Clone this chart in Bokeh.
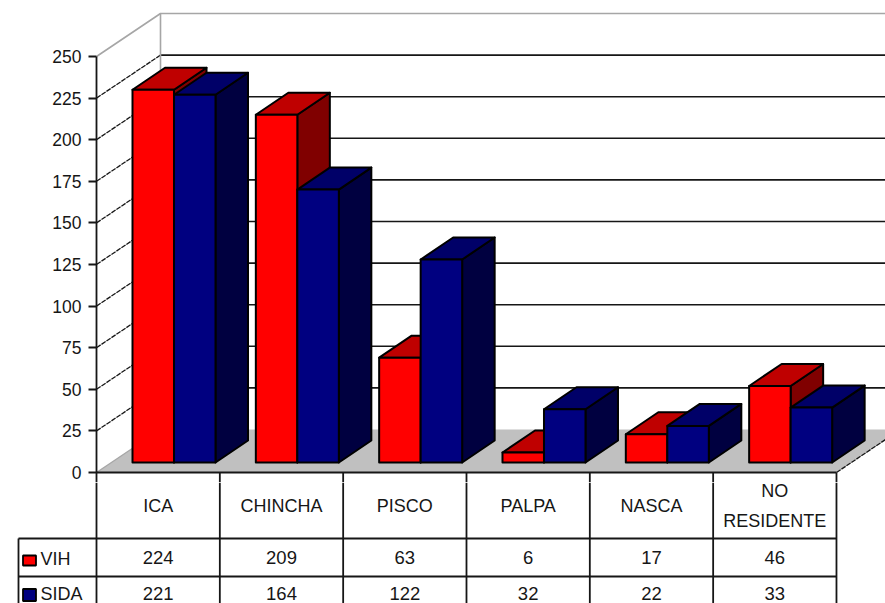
from bokeh.plotting import figure
from bokeh.models import Range1d, FixedTicker
from bokeh.core.properties import value
from bokeh.embed import file_html
from bokeh.resources import INLINE

categories = ["ICA", "CHINCHA", "PISCO", "PALPA", "NASCA", "NO\nRESIDENTE"]
vih = [224, 209, 63, 6, 17, 46]
sida = [221, 164, 122, 32, 22, 33]
y_ticks = [0, 25, 50, 75, 100, 125, 150, 175, 200, 225, 250]

FONT = value("Liberation Sans")
INK = "#161616"
PX_X = 123.33      # pixels per category
PX_Y = 1.664       # pixels per value unit
AXIS_PX = 96
OFF_L, OFF_T = 0, 0
WIDTH, TOP_H, BOT_H = 885, 482, 121


def ux(px):
    return px / PX_X


def uy(px):
    return px / PX_Y


x_end = ux(OFF_L + WIDTH - AXIS_PX)
top = figure(width=WIDTH, height=TOP_H, output_backend="svg", toolbar_location=None,
             x_range=Range1d(0, x_end),
             y_range=Range1d(uy(-(OFF_T + TOP_H - 472)), uy(472 - OFF_T)),
             x_axis_location=None, min_border_left=AXIS_PX - OFF_L, min_border_right=0,
             min_border_top=0, min_border_bottom=0, outline_line_color=None)
top.grid.visible = False
ax = top.yaxis[0]
ax.ticker = FixedTicker(ticks=y_ticks)
ax.bounds = (uy(-(OFF_T + TOP_H - 472)), y_ticks[-1])
ax.axis_line_color = INK
ax.axis_line_width = 1.8
ax.major_tick_line_color = INK
ax.major_tick_line_width = 1.8
ax.major_tick_out = 8
ax.major_tick_in = 0
ax.minor_tick_line_color = None
ax.major_label_standoff = 7
ax.major_label_text_font = "Liberation Sans"
ax.major_label_text_font_size = "17.5px"
ax.major_label_text_color = INK

# walls and floor (oblique projection)
WALL_DX, WALL_DY = ux(64), uy(43)
n = len(categories)
ymax = y_ticks[-1]
floor_x = [0, WALL_DX, n + WALL_DX, n]
floor_y = [0, WALL_DY, WALL_DY, 0]
top.patch(floor_x, floor_y, fill_color="#c0c0c0", line_color=None)
grid_vals = y_ticks[1:-1]
top.segment([WALL_DX] * len(grid_vals), [v + WALL_DY for v in grid_vals],
            [x_end] * len(grid_vals), [v + WALL_DY for v in grid_vals], line_color=INK, line_width=1.6)
top.segment([0] * len(grid_vals), grid_vals, [WALL_DX] * len(grid_vals),
            [v + WALL_DY for v in grid_vals], line_color=INK, line_width=1.3, line_dash="5 1")
GREY = "#a6a6a6"
top.line([0, WALL_DX, x_end], [ymax, ymax + WALL_DY, ymax + WALL_DY], line_color=GREY, line_width=1.6)
top.line([WALL_DX, WALL_DX], [WALL_DY, ymax + WALL_DY], line_color=GREY, line_width=1.6)
top.line([0, WALL_DX], [0, WALL_DY], line_color=GREY, line_width=1.3)
top.line([n, n + WALL_DX], [0, WALL_DY], line_color=INK, line_width=1.3, line_dash="5 1")

# bars
BAR_OFF = ux(36)
BAR_W = ux(41.5)
BASE = uy(10)
DX, DY = ux(32.5), uy(22)


def bar_faces(x0, v):
    x1 = x0 + BAR_W
    y0, y1 = BASE, BASE + v
    side = ([x1, x1 + DX, x1 + DX, x1], [y0, y0 + DY, y1 + DY, y1])
    cap = ([x0, x0 + DX, x1 + DX, x1], [y1, y1 + DY, y1 + DY, y1])
    front = ([x0, x1, x1, x0], [y0, y0, y1, y1])
    return side, cap, front


xs, ys, fills = [], [], []
for i in range(n):
    for k, (vals, cols) in enumerate(((vih, ("#800000", "#bf0000", "#ff0000")),
                                      (sida, ("#000040", "#000068", "#000080")))):
        faces = bar_faces(i + BAR_OFF + k * BAR_W, vals[i])
        for (fx, fy), c in zip(faces, cols):
            xs.append(fx)
            ys.append(fy)
            fills.append(c)
top.patches(xs, ys, fill_color=fills, line_color="#000000", line_width=2, line_join="round")

# table top edge, inside the first figure
top.line([0, n], [0, 0], line_color=INK, line_width=2)
below = uy(-(OFF_T + TOP_H - 472))
top.segment(list(range(1, n + 1)), [0] * n, list(range(1, n + 1)), [below] * n, line_color=INK, line_width=1.8)

# data table (second figure: y counted in page pixels downward)
bot_top = OFF_T + TOP_H
left = ux(OFF_L - AXIS_PX)
bot = figure(width=WIDTH, height=BOT_H, output_backend="svg", toolbar_location=None,
             x_range=Range1d(left, x_end), y_range=Range1d(bot_top + BOT_H, bot_top),
             x_axis_location=None, y_axis_location=None,
             min_border_left=0, min_border_right=0, min_border_top=0, min_border_bottom=0,
             outline_line_color=None)
bot.grid.visible = False
BOX_L = ux(18 - AXIS_PX)
ROW1, ROW2, END = 538, 576, bot_top + BOT_H
bot.segment([BOX_L, BOX_L], [ROW1, ROW2], [n, n], [ROW1, ROW2], line_color=INK, line_width=1.8)
bot.segment(list(range(0, n + 1)), [bot_top] * (n + 1), list(range(0, n + 1)), [END] * (n + 1),
            line_color=INK, line_width=1.8)
bot.segment([BOX_L], [ROW1], [BOX_L], [END], line_color=INK, line_width=1.8)

centers = [i + 0.5 for i in range(n)]
txt = dict(text_font=FONT, text_color=INK, text_align="center", text_baseline="middle")
bot.text(centers, [505] * n, text=categories, text_font_size=value("18px"), text_line_height=1.5, **txt)
bot.text(centers, [557] * n, text=[str(v) for v in vih], text_font_size=value("18.5px"), **txt)
bot.text(centers, [593] * n, text=[str(v) for v in sida], text_font_size=value("18.5px"), **txt)

SW_X = ux(29 - AXIS_PX)
bot.rect([SW_X], [560], width=ux(13), height=10, fill_color="#ff0000", line_color="#000000", line_width=1.8)
bot.rect([SW_X], [594.5], width=ux(13), height=12, fill_color="#000080", line_color="#000000", line_width=1.8)
LAB_X = ux(40 - AXIS_PX)
bot.text([LAB_X, LAB_X], [558, 593], text=["VIH", "SIDA"], text_font=FONT, text_color=INK,
         text_align="left", text_baseline="middle", text_font_size=value("18px"))

open("out.html", "w").write(file_html([top, bot], INLINE))
